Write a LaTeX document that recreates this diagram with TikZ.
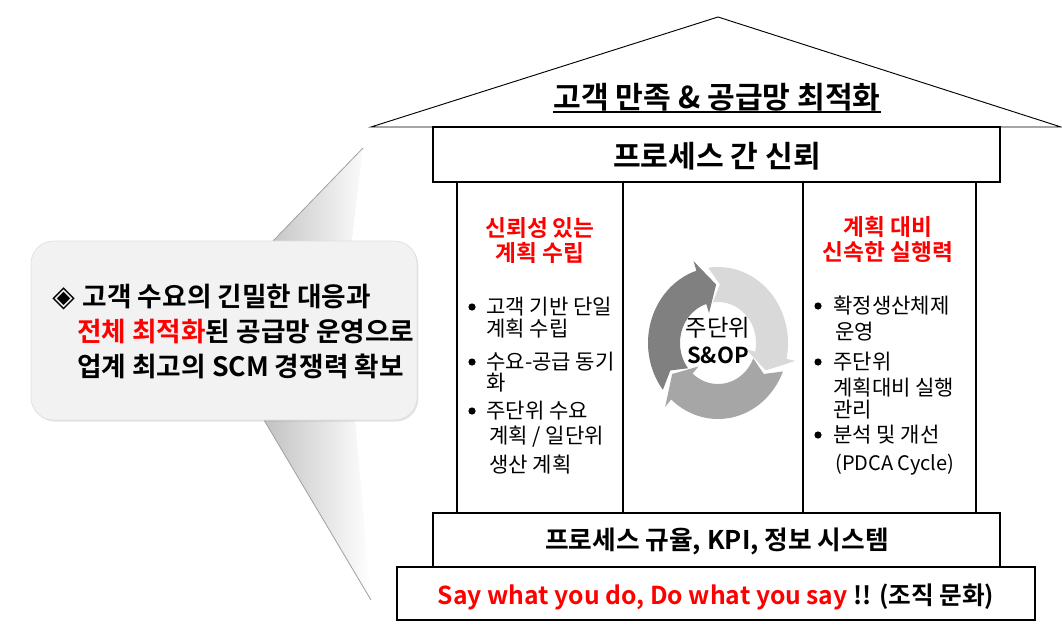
\documentclass[tikz,border=0pt]{standalone}
\usepackage{fontspec}
\setmainfont{Noto Sans CJK KR}[BoldFont={Noto Sans CJK KR Bold}]
\newfontfamily\symfont{DejaVu Sans}
\usetikzlibrary{shadows}
\definecolor{cdark}{HTML}{808080}
\definecolor{cmid}{HTML}{A6A6A6}
\definecolor{clight}{HTML}{D9D9D9}
\definecolor{cred}{HTML}{FF0000}
\definecolor{cfill}{HTML}{F2F2F2}
\definecolor{cwedge}{HTML}{A0A0A0}
\newcommand\cyclearrow[3]{%
\fill[#3] plot[domain=#1:#2,samples=40] ({718+70*cos(\x)},{343-76*sin(\x)})
 -- ({718+79*cos(#2)},{343-86*sin(#2)})
 -- ({718+54*cos(#2-16)},{343-58.5*sin(#2-16)})
 -- ({718+29*cos(#2)},{343-31.5*sin(#2)})
 -- plot[domain=#2:#1,samples=40] ({718+38*cos(\x)},{343-41*sin(\x)})
 -- ({718+54*cos(#1-10)},{343-58.5*sin(#1-10)})
 -- cycle;}
\begin{document}
\begin{tikzpicture}[x=0.75pt,y=-0.75pt,
  frame/.style={draw=black, line width=0.8pt},
  bigtxt/.style={inner sep=0pt, font=\fontsize{22.6pt}{26pt}\selectfont\bfseries},
  calltxt/.style={inner sep=0pt, anchor=west, font=\fontsize{20pt}{24pt}\selectfont\bfseries},
  headtxt/.style={inner sep=0pt, text=cred, font=\fontsize{17pt}{20pt}\selectfont\bfseries},
  itemtxt/.style={inner sep=0pt, anchor=west, font=\fontsize{15.8pt}{19pt}\selectfont},
  dot/.style={circle, fill=black, inner sep=0pt, minimum size=5.4pt}
]
\useasboundingbox (0,0) rectangle (1062,627);
\fill[white] (0,0) rectangle (1062,627);

% callout wedge
\shade[left color=black!24, middle color=black!4, right color=white, shading angle=90]
  (264,420) -- (273,241) -- (363,148) -- (345,300) -- (371,600) -- cycle;
\fill[white] (363,148) -- (372,148) -- (380,600) -- (371,600) -- (345,300) -- cycle;
\draw[cwedge, line width=0.6pt] (273,241) -- (363,148);
\draw[cwedge, line width=0.6pt] (264,420) -- (371,600);

% callout box
\draw[draw=black!12, fill=cfill, rounded corners=17pt, line width=0.5pt,
  drop shadow={opacity=0.22, shadow xshift=1pt, shadow yshift=-1.2pt}]
  (31,241) rectangle (417,420);
\node[calltxt] (c1) at (52,297) {{\symfont\fontsize{22pt}{24pt}\selectfont ◈}\hspace{6pt}고객 수요의 긴밀한 대응과};
\node[calltxt] (c2) at (77,332) {\textcolor{cred}{전체 최적화}된 공급망 운영으로};
\node[calltxt] (c3) at (77,366) {업계 최고의 SCM 경쟁력 확보};

% roof
\draw[line width=0.7pt] (371,127) -- (718,17) -- (1061,127) -- cycle;
\node[bigtxt] (title) at (717,97) {고객 만족 \& 공급망 최적화};
\draw[line width=0.9pt] (title.south west |- 0,112) -- (title.south east |- 0,112);

% top beam
\draw[frame] (433,127) rectangle (1000,182);
\node[bigtxt] (trust) at (717,156) {프로세스 간 신뢰};

% columns
\draw[frame] (457,182) rectangle (976,513);
\draw[frame] (623,182) -- (623,513);
\draw[frame] (803,182) -- (803,513);

% left column
\node[headtxt] (lh1) at (540,228) {신뢰성 있는};
\node[headtxt] (lh2) at (540,253) {계획 수립};
\node[dot] (lb1) at (472,307) {};
\node[itemtxt] (l1) at (486,307) {고객 기반 단일};
\node[itemtxt] (l2) at (486,329) {계획 수립};
\node[dot] (lb2) at (472,362) {};
\node[itemtxt] (l3) at (486,362) {수요-공급 동기};
\node[itemtxt] (l4) at (486,383) {화};
\node[dot] (lb3) at (472,411) {};
\node[itemtxt] (l5) at (486,411) {주단위 수요};
\node[itemtxt] (l6) at (489,437) {계획 / 일단위};
\node[itemtxt] (l7) at (489,465) {생산 계획};

% center cycle
\cyclearrow{98}{-12}{clight}
\cyclearrow{-22}{-132}{cmid}
\cyclearrow{218}{108}{cdark}
\node[inner sep=0pt, font=\fontsize{17.5pt}{20pt}\selectfont] (w1) at (718,328) {주단위};
\node[inner sep=0pt, font=\fontsize{16.5pt}{20pt}\selectfont\bfseries] (w2) at (718,355) {S\&OP};

% right column
\node[headtxt] (rh1) at (888,227) {계획 대비};
\node[headtxt] (rh2) at (888,252) {신속한 실행력};
\node[dot] (rb1) at (818,306) {};
\node[itemtxt] (r1) at (833,306) {확정생산체제};
\node[itemtxt] (r2) at (835,332) {운영};
\node[dot] (rb2) at (818,362) {};
\node[itemtxt] (r3) at (833,362) {주단위};
\node[itemtxt] (r4) at (833,388) {계획대비 실행};
\node[itemtxt] (r5) at (833,410) {관리};
\node[dot] (rb3) at (818,435) {};
\node[itemtxt] (r6) at (833,435) {분석 및 개선};
\node[itemtxt, font=\fontsize{15pt}{19pt}\selectfont] (r7) at (835,465) {(PDCA Cycle)};

% foundation
\draw[frame] (433,513) rectangle (1000,567);
\node[bigtxt, font=\fontsize{19.3pt}{23pt}\selectfont\bfseries] (disc) at (717,541) {프로세스 규율, KPI, 정보 시스템};
\draw[frame] (397,567) rectangle (1035,620);
\node[bigtxt, font=\fontsize{18.5pt}{22pt}\selectfont\bfseries] (say) at (716,597) {\textcolor{cred}{Say what you do, Do what you say} !! (조직 문화)};
\end{tikzpicture}
\end{document}
